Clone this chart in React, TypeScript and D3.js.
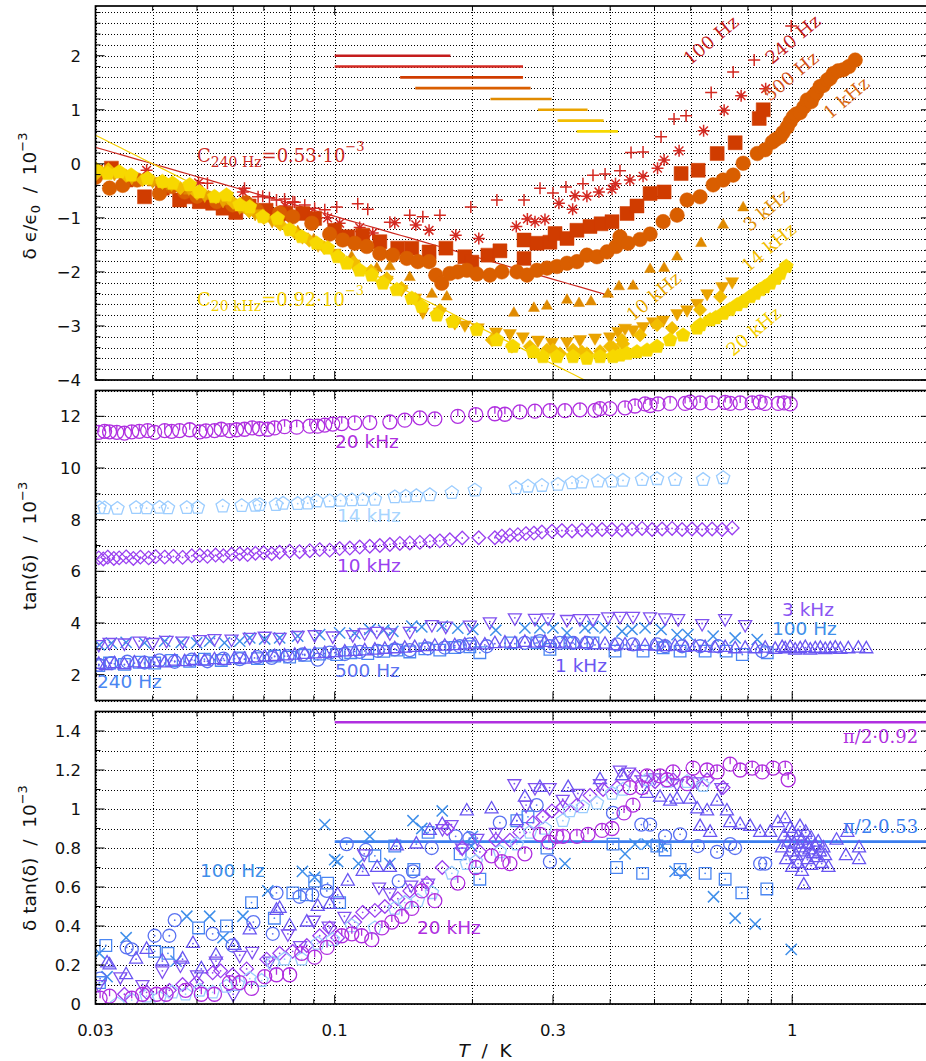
import React from 'react';
import * as d3 from 'd3';

type Pt = [number, number];

// ---------- relative permittivity change δε/ε0 (10^-3) vs temperature (K) ----------
const eps100Hz: Pt[] = [[0.0527,-0.36],[0.0635,-0.45],[0.068,-0.61],[0.0696,-0.60],[0.072,-0.63],[0.0746,-0.67],[0.0777,-0.65],[0.081,-0.70],[0.0818,-0.71],[0.0860,-0.76],[0.0904,-0.82],[0.0951,-0.85],[0.1010,-0.80],[0.1123,-0.74],[0.1181,-0.84],[0.1320,-1.08],[0.1459,-0.95],[0.1558,-0.98],[0.1698,-0.95],[0.1984,-0.80],[0.2262,-0.67],[0.2593,-0.67],[0.2810,-0.45],[0.2999,-0.54],[0.3202,-0.43],[0.3488,-0.37],[0.3669,-0.21],[0.3899,-0.19],[0.4203,-0.13],[0.4443,0.21],[0.4720,0.22],[0.5168,0.50],[0.5517,0.83],[0.5861,0.89],[0.6650,1.32],[0.7428,1.70],[0.8258,1.92],[0.9950,2.55]];
const eps240Hz: Pt[] = [[0.0388,-0.12],[0.0504,-0.35],[0.063,-0.52],[0.078,-0.78],[0.088,-0.92],[0.0965,-1.00],[0.1025,-1.10],[0.1134,-1.18],[0.1211,-1.28],[0.1353,-1.09],[0.1504,-1.13],[0.1608,-1.23],[0.1839,-1.32],[0.2065,-1.38],[0.2494,-1.16],[0.2637,-1.02],[0.2740,-1.07],[0.2881,-1.03],[0.3091,-0.73],[0.3312,-0.84],[0.3351,-0.59],[0.3558,-0.60],[0.3780,-0.52],[0.4037,-0.47],[0.4109,-0.37],[0.4418,-0.30],[0.4720,-0.23],[0.5077,-0.08],[0.5248,0.07],[0.5659,0.24],[0.6402,0.61],[0.7099,0.99],[0.7733,1.26],[0.8749,1.39]];
const eps500Hz: Pt[] = [[0.0300,-0.15],[0.0325,-0.08],[0.035,-0.30],[0.0384,-0.61],[0.042,-0.45],[0.0458,-0.67],[0.0481,-0.61],[0.0506,-0.70],[0.0541,-0.73],[0.057,-0.82],[0.0608,-0.90],[0.065,-0.78],[0.0708,-0.86],[0.075,-0.95],[0.0782,-0.92],[0.0851,-0.92],[0.0904,-1.01],[0.1000,-1.23],[0.1068,-1.35],[0.1151,-1.32],[0.1255,-1.44],[0.1373,-1.56],[0.1474,-1.56],[0.1608,-1.63],[0.1750,-1.56],[0.1925,-1.72],[0.1994,-1.82],[0.2162,-1.69],[0.2297,-1.61],[0.2593,-1.41],[0.2593,-1.75],[0.2767,-1.47],[0.2954,-1.45],[0.3031,-1.29],[0.3219,-1.38],[0.3384,-1.23],[0.3614,-1.16],[0.3821,-1.11],[0.4037,-1.07],[0.4355,-0.92],[0.4578,-0.78],[0.4890,-0.55],[0.5248,-0.52],[0.5717,-0.18],[0.6228,-0.12],[0.6854,0.19],[0.7504,0.39],[0.8469,0.84],[0.8642,1.00]];
const eps1kHz: Pt[] = [[0.0300,-0.25],[0.0322,-0.45],[0.0344,-0.40],[0.037,-0.30],[0.0414,-0.55],[0.044,-0.42],[0.0470,-0.52],[0.050,-0.60],[0.0552,-0.70],[0.0598,-0.76],[0.064,-0.72],[0.0675,-0.86],[0.0758,-0.91],[0.0809,-0.98],[0.0891,-1.10],[0.0975,-1.30],[0.1041,-1.41],[0.1106,-1.47],[0.1175,-1.53],[0.1255,-1.66],[0.1339,-1.69],[0.1437,-1.75],[0.1519,-1.81],[0.1608,-1.81],[0.1663,-2.06],[0.1714,-2.21],[0.1785,-2.03],[0.1858,-2.00],[0.1944,-1.97],[0.2045,-2.04],[0.2183,-2.06],[0.2319,-2.00],[0.2502,-2.00],[0.2632,-2.06],[0.2767,-1.97],[0.2910,-1.93],[0.3060,-1.90],[0.3219,-1.84],[0.3384,-1.81],[0.3558,-1.69],[0.3743,-1.72],[0.3937,-1.63],[0.4120,-1.53],[0.4203,-1.35],[0.4377,-1.47],[0.4649,-1.40],[0.4890,-1.30],[0.5222,-1.07],[0.5602,-0.95],[0.5891,-0.67],[0.6290,-0.61],[0.6717,-0.39],[0.7063,-0.30],[0.7428,-0.21],[0.7812,0.01],[0.8384,0.19],[0.8727,0.26],[0.9042,0.40],[0.92,0.45],[0.9412,0.50],[0.955,0.58],[0.9752,0.68],[0.99,0.78],[1.005,0.87],[1.02,0.92],[1.041,0.95],[1.06,1.05],[1.078,1.18],[1.10,1.15],[1.112,1.25],[1.13,1.32],[1.151,1.43],[1.17,1.45],[1.193,1.55],[1.21,1.58],[1.230,1.67],[1.26,1.72],[1.293,1.74],[1.33,1.80],[1.373,1.92]];
const eps3kHz: Pt[] = [[0.030,-0.15],[0.033,-0.20],[0.036,-0.25],[0.040,-0.35],[0.044,-0.42],[0.048,-0.50],[0.053,-0.60],[0.058,-0.70],[0.064,-0.85],[0.070,-0.95],[0.076,-1.10],[0.083,-1.25],[0.090,-1.40],[0.097,-1.55],[0.1089,-1.72],[0.1236,-1.93],[0.1320,-1.90],[0.1459,-2.10],[0.1631,-2.41],[0.1758,-2.46],[0.2464,-2.76],[0.2725,-2.67],[0.2910,-2.63],[0.3219,-2.52],[0.3420,-2.58],[0.3632,-2.55],[0.3958,-2.41],[0.4182,-2.27],[0.4488,-2.26],[0.4890,-1.95],[0.5248,-1.93],[0.5602,-1.72],[0.6322,-1.47],[0.7063,-1.13],[0.7812,-0.81]];
const eps10kHz: Pt[] = [[0.030,-0.12],[0.033,-0.18],[0.036,-0.25],[0.040,-0.32],[0.044,-0.38],[0.048,-0.45],[0.052,-0.58],[0.057,-0.68],[0.062,-0.80],[0.067,-0.92],[0.073,-1.05],[0.079,-1.20],[0.085,-1.35],[0.092,-1.50],[0.100,-1.65],[0.110,-1.85],[0.120,-2.00],[0.130,-2.15],[0.140,-2.32],[0.150,-2.48],[0.1558,-2.74],[0.1698,-2.74],[0.1830,-2.94],[0.1925,-2.98],[0.2055,-3.03],[0.2251,-3.11],[0.2415,-3.14],[0.2578,-3.20],[0.2781,-3.26],[0.2985,-3.30],[0.3219,-3.29],[0.3437,-3.25],[0.3706,-3.22],[0.3997,-3.20],[0.4162,-3.10],[0.4311,-3.04],[0.4488,-3.07],[0.4720,-3.01],[0.4963,-2.92],[0.5222,-2.89],[0.5602,-2.77],[0.5891,-2.70],[0.6197,-2.58],[0.6516,-2.40],[0.7029,-2.27],[0.7392,-2.18]];
const eps14kHz: Pt[] = [[0.030,-0.20],[0.032,-0.10],[0.035,-0.22],[0.038,-0.30],[0.042,-0.35],[0.046,-0.45],[0.050,-0.55],[0.055,-0.62],[0.060,-0.72],[0.065,-0.88],[0.070,-1.00],[0.076,-1.12],[0.082,-1.28],[0.088,-1.42],[0.095,-1.55],[0.102,-1.70],[0.110,-1.82],[0.120,-1.98],[0.130,-2.12],[0.140,-2.30],[0.150,-2.50],[0.1698,-2.71],[0.1831,-2.92],[0.2206,-3.26],[0.2439,-3.38],[0.2671,-3.38],[0.2910,-3.44],[0.3000,-3.44],[0.3107,-3.51],[0.3318,-3.44],[0.3471,-3.48],[0.3558,-3.51],[0.3802,-3.47],[0.3997,-3.38],[0.4058,-3.40],[0.4246,-3.26],[0.4267,-3.33],[0.4649,-3.17],[0.5066,-2.98],[0.5463,-3.04],[0.6290,-2.70],[0.6960,-2.46]];
const eps20kHz: Pt[] = [[0.0301,-0.11],[0.0319,-0.18],[0.0338,-0.15],[0.0359,-0.21],[0.0390,-0.27],[0.0420,-0.33],[0.0442,-0.36],[0.0482,-0.39],[0.0506,-0.52],[0.0546,-0.61],[0.0580,-0.58],[0.0620,-0.76],[0.0652,-0.80],[0.0696,-0.98],[0.0750,-1.01],[0.0797,-1.22],[0.0847,-1.35],[0.0913,-1.47],[0.0965,-1.56],[0.1015,-1.72],[0.1062,-1.84],[0.1134,-1.97],[0.1205,-2.06],[0.1274,-2.21],[0.1367,-2.33],[0.1474,-2.49],[0.1550,-2.64],[0.1672,-2.80],[0.1812,-2.92],[0.2045,-3.07],[0.2262,-3.26],[0.2452,-3.38],[0.2713,-3.48],[0.2851,-3.57],[0.3060,-3.57],[0.3318,-3.57],[0.3558,-3.60],[0.3802,-3.57],[0.4058,-3.57],[0.4203,-3.54],[0.4355,-3.51],[0.4578,-3.48],[0.4817,-3.45],[0.5066,-3.38],[0.5408,-3.26],[0.5775,-3.17],[0.6197,-3.04],[0.63,-2.98],[0.6616,-2.89],[0.68,-2.85],[0.7063,-2.77],[0.73,-2.70],[0.7579,-2.61],[0.78,-2.55],[0.8092,-2.46],[0.83,-2.40],[0.8511,-2.33],[0.87,-2.28],[0.8951,-2.21],[0.92,-2.12],[0.9412,-2.03],[0.9703,-1.90]];

// ---------- loss tangent tan δ (10^-3) ----------
const tan100Hz: Pt[] = [[0.0306,3.15],[0.0325,3.22],[0.0350,3.25],[0.0384,3.23],[0.0425,3.30],[0.0462,3.25],[0.0499,3.23],[0.0533,3.30],[0.0574,3.23],[0.0620,3.30],[0.0652,3.42],[0.0703,3.38],[0.0758,3.42],[0.0830,3.49],[0.0927,3.55],[0.1025,3.62],[0.1106,3.60],[0.1193,3.75],[0.1280,3.72],[0.1340,3.68],[0.1474,3.88],[0.1550,3.85],[0.1718,3.88],[0.1858,3.80],[0.2004,3.75],[0.2250,3.72],[0.2604,3.81],[0.2809,3.81],[0.2999,3.81],[0.3219,3.62],[0.3523,3.81],[0.3669,3.87],[0.3898,3.81],[0.4246,3.68],[0.4465,3.75],[0.4768,3.81],[0.5169,3.75],[0.5602,3.55],[0.5917,3.55],[0.6717,3.49],[0.7504,3.42],[0.8384,3.36]];
const tan240Hz: Pt[] = [[0.0305,2.35],[0.0322,2.45],[0.0347,2.40],[0.0374,2.48],[0.0404,2.45],[0.0440,2.55],[0.0482,2.52],[0.0519,2.60],[0.0565,2.55],[0.0620,2.65],[0.0678,2.62],[0.0739,2.72],[0.0797,2.68],[0.0860,2.75],[0.0927,2.80],[0.1010,2.78],[0.1084,2.85],[0.1181,2.82],[0.1280,2.90],[0.1367,2.95],[0.1459,2.88],[0.1574,3.00],[0.1697,2.95],[0.1830,3.05],[0.1974,3.08],[0.2076,2.85],[0.2427,3.23],[0.2767,3.23],[0.2954,2.98],[0.3267,3.23],[0.3669,3.23],[0.4099,2.91],[0.4720,2.91],[0.5222,3.04],[0.5687,2.91],[0.6451,2.91],[0.7172,2.91],[0.7780,2.78],[0.8820,2.85]];
const tan500Hz: Pt[] = [[0.0305,2.38],[0.0325,2.45],[0.0352,2.50],[0.0384,2.47],[0.0414,2.55],[0.0447,2.50],[0.0487,2.58],[0.0527,2.52],[0.0571,2.62],[0.0620,2.60],[0.0678,2.68],[0.0728,2.65],[0.0789,2.72],[0.0851,2.78],[0.0918,2.58],[0.0975,2.85],[0.1052,2.80],[0.1134,2.88],[0.1242,2.92],[0.1353,2.98],[0.1459,2.95],[0.1598,3.02],[0.1740,3.05],[0.1877,3.10],[0.1974,3.17],[0.2150,3.10],[0.2604,3.23],[0.2809,3.30],[0.2954,3.10],[0.3106,3.23],[0.3318,3.23],[0.3559,3.23],[0.4140,3.17],[0.4488,3.17],[0.5065,3.17],[0.5273,3.10],[0.5745,3.10],[0.6290,3.10],[0.6890,3.10],[0.8597,2.91]];
const tan1kHz: Pt[] = [[0.0305,2.40],[0.0316,2.35],[0.0330,2.42],[0.0347,2.38],[0.0365,2.45],[0.0384,2.42],[0.0404,2.48],[0.0425,2.45],[0.0447,2.52],[0.0470,2.50],[0.0494,2.55],[0.0519,2.52],[0.0546,2.58],[0.0574,2.55],[0.0604,2.62],[0.0635,2.60],[0.0668,2.65],[0.0703,2.68],[0.0739,2.70],[0.0777,2.72],[0.0818,2.75],[0.0860,2.78],[0.0904,2.80],[0.0951,2.82],[0.1000,2.85],[0.1052,2.88],[0.1106,2.90],[0.1163,2.92],[0.1224,2.95],[0.1287,2.98],[0.1353,3.00],[0.1423,3.02],[0.1496,3.05],[0.1574,3.08],[0.1655,3.10],[0.1740,3.10],[0.1830,3.12],[0.1925,3.15],[0.2024,3.18],[0.2129,3.15],[0.2239,3.20],[0.2355,3.22],[0.2476,3.20],[0.2604,3.25],[0.2739,3.22],[0.2880,3.25],[0.3029,3.20],[0.3186,3.22],[0.3350,3.18],[0.3523,3.20],[0.3706,3.15],[0.3898,3.18],[0.4099,3.12],[0.4311,3.15],[0.4533,3.10],[0.4768,3.12],[0.5014,3.10],[0.5273,3.08],[0.5546,3.10],[0.5832,3.05],[0.6134,3.08],[0.6451,3.05],[0.6784,3.02],[0.7135,3.05],[0.7504,3.00],[0.7892,3.02],[0.8300,3.00],[0.8728,3.02],[0.9179,2.98],[0.9506,3.05],[0.9654,3.00],[0.990,3.05],[1.015,2.95],[1.041,3.00],[1.068,3.05],[1.095,2.95],[1.123,3.00],[1.152,3.02],[1.181,2.97],[1.211,3.00],[1.242,3.03],[1.274,2.98],[1.326,3.00],[1.395,3.02],[1.452,3.00]];
const tan3kHz: Pt[] = [[0.0305,3.17],[0.0322,3.25],[0.0347,3.23],[0.0374,3.30],[0.0400,3.25],[0.0429,3.33],[0.0465,3.30],[0.0507,3.36],[0.0546,3.40],[0.0595,3.38],[0.0652,3.45],[0.0703,3.49],[0.0758,3.45],[0.0830,3.52],[0.0904,3.55],[0.0990,3.50],[0.1095,3.55],[0.1163,3.62],[0.1236,3.68],[0.1320,3.62],[0.1459,3.68],[0.1631,3.94],[0.1749,3.88],[0.1974,3.92],[0.2183,4.05],[0.2476,4.20],[0.2739,4.18],[0.2925,4.20],[0.3219,4.14],[0.3436,4.17],[0.3669,4.17],[0.3958,4.24],[0.4203,4.26],[0.4488,4.26],[0.4889,4.24],[0.5273,4.20],[0.5633,4.17],[0.6354,3.98],[0.7135,4.17],[0.7892,3.94]];
const tan10kHz: Pt[] = [[0.0305,6.52],[0.0312,6.48],[0.0319,6.55],[0.0329,6.50],[0.0338,6.52],[0.0350,6.56],[0.0363,6.50],[0.0376,6.55],[0.0392,6.52],[0.0406,6.57],[0.0425,6.55],[0.0444,6.58],[0.0465,6.54],[0.0487,6.60],[0.0507,6.62],[0.0527,6.58],[0.0549,6.63],[0.0571,6.60],[0.0595,6.66],[0.0620,6.68],[0.0645,6.65],[0.0671,6.70],[0.0699,6.72],[0.0728,6.68],[0.0758,6.74],[0.0797,6.78],[0.0838,6.76],[0.0882,6.80],[0.0927,6.84],[0.0975,6.82],[0.1025,6.88],[0.1079,6.90],[0.1134,6.94],[0.1193,6.97],[0.1255,7.00],[0.1320,7.04],[0.1388,7.08],[0.1459,7.10],[0.1535,7.12],[0.1614,7.16],[0.1697,7.18],[0.1785,7.22],[0.1900,7.29],[0.2065,7.30],[0.2239,7.30],[0.2320,7.36],[0.2415,7.40],[0.2514,7.42],[0.2618,7.46],[0.2725,7.48],[0.2837,7.52],[0.2985,7.55],[0.3138,7.58],[0.3301,7.56],[0.3471,7.60],[0.3650,7.60],[0.3840,7.62],[0.4037,7.62],[0.4246,7.60],[0.4465,7.64],[0.4696,7.66],[0.4939,7.62],[0.5195,7.64],[0.5463,7.66],[0.5745,7.62],[0.6041,7.64],[0.6354,7.62],[0.6682,7.64],[0.7028,7.62],[0.7392,7.68]];
const tan14kHz: Pt[] = [[0.0306,8.46],[0.0314,8.45],[0.0335,8.43],[0.0368,8.46],[0.0388,8.45],[0.0414,8.47],[0.0432,8.45],[0.0475,8.46],[0.0502,8.47],[0.0569,8.52],[0.0626,8.54],[0.0671,8.55],[0.0685,8.58],[0.0744,8.58],[0.0771,8.63],[0.0830,8.62],[0.0873,8.64],[0.0913,8.72],[0.0975,8.72],[0.1030,8.74],[0.1090,8.76],[0.1151,8.77],[0.1224,8.78],[0.1353,8.88],[0.1430,8.90],[0.1508,8.92],[0.1614,8.96],[0.1803,9.04],[0.2024,9.14],[0.2489,9.23],[0.2645,9.29],[0.2837,9.32],[0.3076,9.36],[0.3301,9.42],[0.3471,9.45],[0.3763,9.49],[0.4037,9.49],[0.4267,9.52],[0.4696,9.55],[0.5065,9.58],[0.5546,9.55],[0.6386,9.55],[0.7063,9.62]];
const tan20kHz: Pt[] = [[0.0305,11.38],[0.0314,11.42],[0.0322,11.40],[0.0334,11.38],[0.0347,11.35],[0.0360,11.40],[0.0374,11.42],[0.0390,11.45],[0.0404,11.38],[0.0425,11.45],[0.0440,11.42],[0.0458,11.45],[0.0482,11.48],[0.0507,11.40],[0.0523,11.44],[0.0546,11.45],[0.0565,11.50],[0.0589,11.45],[0.0610,11.48],[0.0635,11.50],[0.0660,11.55],[0.0685,11.52],[0.0714,11.50],[0.0739,11.55],[0.0777,11.60],[0.0826,11.58],[0.0882,11.62],[0.0918,11.62],[0.0951,11.66],[0.0990,11.70],[0.1036,11.72],[0.1106,11.75],[0.1193,11.76],[0.1320,11.78],[0.1423,11.85],[0.1535,11.94],[0.1655,11.90],[0.1858,12.00],[0.2034,12.07],[0.2239,12.10],[0.2355,12.08],[0.2539,12.17],[0.2739,12.20],[0.2954,12.22],[0.3186,12.22],[0.3436,12.25],[0.3706,12.23],[0.3800,12.30],[0.3997,12.30],[0.4311,12.33],[0.4533,12.40],[0.4768,12.48],[0.4890,12.42],[0.5090,12.48],[0.5408,12.50],[0.5832,12.50],[0.5980,12.55],[0.6290,12.52],[0.6682,12.52],[0.7135,12.54],[0.7320,12.50],[0.7695,12.52],[0.8175,12.52],[0.8510,12.55],[0.8728,12.50],[0.9320,12.50],[0.9600,12.52],[0.9900,12.48]];

// ---------- change of the loss tangent δ tan δ (10^-3) ----------
const dtan100Hz: Pt[] = [[0.0306,0.26],[0.0318,0.14],[0.0350,0.34],[0.045,0.22],[0.0475,0.45],[0.0533,0.45],[0.057,0.34],[0.0630,0.45],[0.0714,0.58],[0.0850,0.68],[0.0904,0.65],[0.0951,0.92],[0.1000,0.74],[0.1015,0.73],[0.1127,0.72],[0.1193,0.86],[0.1320,0.72],[0.1483,0.94],[0.1550,0.90],[0.1718,0.99],[0.1990,0.81],[0.2000,0.86],[0.3186,0.72],[0.4311,0.77],[0.4533,0.82],[0.4820,0.82],[0.5200,0.81],[0.5546,0.68],[0.5832,0.67],[0.6730,0.55],[0.7504,0.44],[0.8300,0.41],[0.9950,0.28]];
const dtan240Hz: Pt[] = [[0.0306,0.11],[0.0316,0.30],[0.0404,0.27],[0.0432,0.26],[0.0504,0.39],[0.0580,0.40],[0.0658,0.52],[0.0738,0.44],[0.0810,0.57],[0.0868,0.56],[0.0904,0.63],[0.0965,0.62],[0.1025,0.52],[0.1224,0.76],[0.1353,0.81],[0.1489,0.69],[0.1600,0.88],[0.1880,0.77],[0.2076,0.64],[0.2501,0.94],[0.2645,0.96],[0.2910,0.80],[0.4058,0.82],[0.4130,0.70],[0.4710,0.67],[0.5060,0.81],[0.5273,0.79],[0.5687,0.69],[0.6451,0.67],[0.7135,0.64],[0.7760,0.57],[0.8800,0.59]];
const dtan500Hz: Pt[] = [[0.0307,0.13],[0.0351,0.29],[0.0360,0.28],[0.0404,0.35],[0.0435,0.35],[0.0447,0.43],[0.0541,0.36],[0.0598,0.30],[0.0664,0.42],[0.0732,0.36],[0.0746,0.57],[0.0838,0.55],[0.0893,0.56],[0.0961,0.58],[0.1062,0.82],[0.1170,0.79],[0.1380,0.63],[0.1483,0.68],[0.1629,0.80],[0.1838,0.86],[0.1969,0.85],[0.2296,0.93],[0.2763,1.02],[0.2954,0.73],[0.4058,0.98],[0.4680,0.92],[0.4890,0.92],[0.5273,0.86],[0.5687,0.87],[0.6220,0.81],[0.6850,0.78],[0.7317,0.82],[0.7500,0.80],[0.8511,0.72],[0.8728,0.72]];
const dtan1kHz: Pt[] = [[0.0318,0.21],[0.0322,0.20],[0.0350,0.15],[0.0368,0.23],[0.0388,0.28],[0.0420,0.22],[0.0465,0.23],[0.0490,0.31],[0.0511,0.18],[0.0550,0.25],[0.0604,0.30],[0.0652,0.38],[0.0746,0.48],[0.0758,0.49],[0.0797,0.40],[0.0869,0.42],[0.0918,0.50],[0.0975,0.51],[0.1015,0.56],[0.1068,0.63],[0.1151,0.68],[0.1238,0.70],[0.1320,0.70],[0.1367,0.81],[0.1508,0.82],[0.1614,0.89],[0.1718,0.92],[0.1944,0.99],[0.2202,1.00],[0.2501,0.94],[0.2604,1.06],[0.2809,1.11],[0.3238,1.11],[0.3801,1.15],[0.4246,1.17],[0.4815,1.08],[0.5142,1.06],[0.5408,1.04],[0.5600,1.05],[0.5981,1.05],[0.6200,1.00],[0.6290,0.91],[0.6516,0.99],[0.6615,0.88],[0.6852,1.04],[0.7200,0.99],[0.7317,0.93],[0.7695,0.92],[0.8093,0.91],[0.8511,0.88],[0.8951,0.88],[0.9300,0.93],[0.9654,0.95],[0.95,0.80],[0.96,0.86],[0.97,0.74],[0.98,0.83],[0.99,0.78],[0.99,0.90],[1.00,0.88],[1.00,0.70],[1.01,0.82],[1.02,0.76],[1.03,0.86],[1.03,0.72],[1.04,0.80],[1.04,0.91],[1.05,0.84],[1.05,0.68],[1.06,0.78],[1.06,0.61],[1.07,0.88],[1.08,0.74],[1.08,0.82],[1.09,0.79],[1.10,0.85],[1.10,0.71],[1.11,0.77],[1.12,0.81],[1.13,0.75],[1.14,0.83],[1.15,0.78],[1.16,0.72],[1.17,0.80],[1.18,0.76],[1.20,0.70],[1.25,0.84],[1.31,0.76],[1.32,0.88],[1.40,0.80],[1.40,0.74]];
const dtan3kHz: Pt[] = [[0.0305,0.10],[0.034,0.14],[0.038,0.10],[0.042,0.17],[0.046,0.20],[0.050,0.15],[0.055,0.22],[0.060,0.05],[0.062,0.25],[0.066,0.27],[0.072,0.22],[0.079,0.36],[0.084,0.30],[0.090,0.43],[0.097,0.40],[0.105,0.45],[0.116,0.77],[0.125,0.60],[0.132,0.57],[0.147,0.61],[0.160,0.62],[0.172,0.90],[0.180,0.92],[0.190,0.80],[0.205,0.85],[0.225,0.88],[0.247,1.13],[0.262,1.02],[0.274,1.11],[0.295,1.11],[0.315,1.05],[0.340,1.08],[0.380,1.13],[0.420,1.20],[0.440,1.19],[0.470,1.15],[0.500,1.16],[0.560,1.13],[0.620,1.14],[0.700,1.11]];
const dtan10kHz: Pt[] = [[0.0347,0.05],[0.0388,0.06],[0.0435,0.07],[0.0465,0.10],[0.0499,0.11],[0.0541,0.16],[0.0563,0.17],[0.0598,0.15],[0.0642,0.18],[0.0710,0.23],[0.0758,0.26],[0.0809,0.27],[0.0869,0.30],[0.0927,0.35],[0.0975,0.39],[0.1015,0.34],[0.1106,0.42],[0.1151,0.47],[0.1224,0.48],[0.1287,0.50],[0.1374,0.54],[0.1459,0.58],[0.1590,0.62],[0.1718,0.70],[0.1762,0.90],[0.1900,0.80],[0.2076,0.78],[0.2250,0.84],[0.2415,0.84],[0.2539,0.88],[0.2712,0.93],[0.2851,0.96],[0.2984,0.99],[0.3153,1.01],[0.3384,1.02],[0.3614,1.07],[0.3860,1.10],[0.4140,1.11],[0.4533,1.17],[0.5014,1.14],[0.5490,1.15],[0.6071,1.14],[0.6516,1.15],[0.7064,1.11]];
const dtan14kHz: Pt[] = [[0.0335,0.00],[0.0360,0.02],[0.0388,0.04],[0.0414,0.03],[0.0442,0.06],[0.0472,0.05],[0.0507,0.07],[0.0541,0.06],[0.0580,0.09],[0.0613,0.10],[0.0652,0.13],[0.0692,0.12],[0.0732,0.21],[0.0777,0.23],[0.0847,0.23],[0.0918,0.31],[0.0990,0.33],[0.1090,0.40],[0.1224,0.39],[0.1353,0.49],[0.1423,0.52],[0.1519,0.53],[0.1631,0.57],[0.1803,0.67],[0.1944,0.72],[0.2035,0.73],[0.2296,0.78],[0.2501,0.82],[0.2671,0.88],[0.2880,0.90],[0.3153,0.94],[0.3267,0.99],[0.3488,1.01],[0.3743,1.03],[0.4037,1.08],[0.4267,1.10],[0.4815,1.15],[0.5327,1.14],[0.5890,1.14],[0.6386,1.12]];
const dtan20kHz: Pt[] = [[0.0307,0.03],[0.0322,0.04],[0.0360,0.03],[0.0380,0.05],[0.0408,0.05],[0.0428,0.05],[0.0472,0.07],[0.0511,0.05],[0.0546,0.05],[0.0589,0.11],[0.0620,0.11],[0.0658,0.08],[0.0703,0.14],[0.0746,0.15],[0.0797,0.15],[0.0847,0.26],[0.0904,0.24],[0.0962,0.29],[0.1036,0.35],[0.1090,0.36],[0.1145,0.35],[0.1205,0.33],[0.1268,0.39],[0.1333,0.42],[0.1402,0.45],[0.1474,0.49],[0.1550,0.58],[0.1655,0.53],[0.1858,0.62],[0.2035,0.70],[0.2202,0.76],[0.2319,0.73],[0.2415,0.72],[0.2604,0.77],[0.2809,0.87],[0.2939,0.83],[0.3060,0.86],[0.3153,0.86],[0.3384,0.86],[0.3578,0.87],[0.3840,0.89],[0.4037,0.90],[0.4289,0.98],[0.4420,1.11],[0.4488,1.02],[0.4696,1.11],[0.4815,1.17],[0.5142,1.17],[0.5327,1.15],[0.5490,1.19],[0.5890,1.13],[0.6071,1.21],[0.6516,1.20],[0.6852,1.19],[0.7317,1.23],[0.7695,1.20],[0.8175,1.21],[0.8598,1.19],[0.9087,1.21],[0.9654,1.21],[0.9800,1.15]];

// temperature windows drawn as bars in the permittivity panel
const rangeStartK = [0.1, 0.1, 0.139, 0.150, 0.219, 0.278, 0.307, 0.338];
const rangeEndK = [0.179, 0.258, 0.258, 0.268, 0.298, 0.357, 0.387, 0.416];
const rangeLevel = [2.0, 1.8, 1.6, 1.4, 1.2, 1.0, 0.8, 0.6];

// logarithmic TLS fits: δε/ε0 = -2 C ln(T/T0)
const C240Hz = 0.53;
const C20kHz = 0.92;
const fitT0 = 0.04;
const fit240EndK = 0.39;
const plateauStartK = 0.1;

const xTickValues = [0.03, 0.1, 0.3, 1];
const xTickLabels = ['0.03', '0.1', '0.3', '1'];
const epsTicks = [-4, -3, -2, -1, 0, 1, 2];
const tanTicks = [2, 4, 6, 8, 10, 12];
const dtanTicks = [0, 0.2, 0.4, 0.6, 0.8, 1, 1.2, 1.4];

const warm = ['#c41c1c', '#d42a22', '#d03c00', '#d95e00', '#e08a00', '#eaa300', '#f2bd00', '#f7d800'];
const cool = { f100: '#3f8fea', f240: '#4a86f2', f500: '#5a72f2', f1k: '#6a56f2', f3k: '#8052f0', f10k: '#9a40f0', f14k: '#9ccdff', f20k: '#b02fe0' };

const W = 926, H = 1061;
const X_LEFT = 95.5;
const DECADE = 457.5;
const x = d3.scaleLog().domain([0.03, 2]).range([X_LEFT, X_LEFT + DECADE * Math.log10(2 / 0.03)]);
const X_RIGHT = x(2);
const yEps = d3.scaleLinear().domain([-4, 2.92]).range([380, 6]);
const yTan = d3.scaleLinear().domain([1, 13]).range([700.5, 390.5]);
const yDtan = d3.scaleLinear().domain([0, 1.5]).range([1004, 711.5]);

const xGrid = [...d3.range(3, 10).map(k => k / 100), ...d3.range(1, 10).map(k => k / 10), 1, 2];
const epsGrid = d3.range(-20, 15).map(k => k / 5);
const tanGrid = d3.range(1, 14);
const dtanGrid = d3.range(0, 16).map(k => k / 10);

const SANS = 'DejaVu Sans, sans-serif';
const SERIF = 'DejaVu Serif, serif';
const crisp = (v: number) => Math.round(v) + 0.5;

function symbolPath(shape: string, s: number): string {
  const p = d3.path();
  if (shape === 'plus') { p.moveTo(-s, 0); p.lineTo(s, 0); p.moveTo(0, -s); p.lineTo(0, s); }
  else if (shape === 'cross') { p.moveTo(-s, -s); p.lineTo(s, s); p.moveTo(-s, s); p.lineTo(s, -s); }
  else if (shape === 'star') {
    const d = s * 0.72;
    p.moveTo(-s, 0); p.lineTo(s, 0); p.moveTo(0, -s); p.lineTo(0, s);
    p.moveTo(-d, -d); p.lineTo(d, d); p.moveTo(-d, d); p.lineTo(d, -d);
  }
  else if (shape === 'square') { p.rect(-s, -s, 2 * s, 2 * s); }
  else if (shape === 'circle') { p.moveTo(s, 0); p.arc(0, 0, s, 0, 2 * Math.PI); p.closePath(); }
  else if (shape === 'circleTick') { p.moveTo(s, 0); p.arc(0, 0, s, 0, 2 * Math.PI); p.closePath(); p.moveTo(0, -s); p.lineTo(0, 0); }
  else if (shape === 'triUp') { p.moveTo(0, -1.15 * s); p.lineTo(s, 0.6 * s); p.lineTo(-s, 0.6 * s); p.closePath(); }
  else if (shape === 'triDown') { p.moveTo(0, 1.15 * s); p.lineTo(s, -0.6 * s); p.lineTo(-s, -0.6 * s); p.closePath(); }
  else if (shape === 'diamond') { p.moveTo(0, -s); p.lineTo(s, 0); p.lineTo(0, s); p.lineTo(-s, 0); p.closePath(); }
  else if (shape === 'pentagon') {
    for (let k = 0; k < 5; k++) {
      const a = -Math.PI / 2 + (k * 2 * Math.PI) / 5;
      if (k === 0) p.moveTo(s * Math.cos(a), s * Math.sin(a)); else p.lineTo(s * Math.cos(a), s * Math.sin(a));
    }
    p.closePath();
  }
  return p.toString();
}

type SeriesDef = { data: Pt[]; shape: string; color: string; size: number };

const epsSeries: SeriesDef[] = [
  { data: eps100Hz, shape: 'plus', color: warm[1], size: 6 },
  { data: eps240Hz, shape: 'star', color: warm[1], size: 6 },
  { data: eps500Hz, shape: 'square', color: warm[2], size: 7 },
  { data: eps1kHz, shape: 'circle', color: warm[3], size: 7.3 },
  { data: eps3kHz, shape: 'triUp', color: warm[4], size: 5.5 },
  { data: eps10kHz, shape: 'triDown', color: warm[5], size: 6.5 },
  { data: eps14kHz, shape: 'diamond', color: warm[6], size: 6.8 },
  { data: eps20kHz, shape: 'pentagon', color: warm[7], size: 7.5 },
];
const tanSeries: SeriesDef[] = [
  { data: tan100Hz, shape: 'cross', color: cool.f100, size: 5.6 },
  { data: tan240Hz, shape: 'square', color: cool.f240, size: 5.8 },
  { data: tan500Hz, shape: 'circle', color: cool.f500, size: 6.5 },
  { data: tan1kHz, shape: 'triUp', color: cool.f1k, size: 6.5 },
  { data: tan3kHz, shape: 'triDown', color: cool.f3k, size: 6.5 },
  { data: tan10kHz, shape: 'diamond', color: cool.f10k, size: 6.8 },
  { data: tan14kHz, shape: 'pentagon', color: cool.f14k, size: 7 },
  { data: tan20kHz, shape: 'circleTick', color: cool.f20k, size: 7 },
];
const dtanSeries: SeriesDef[] = [
  { data: dtan100Hz, shape: 'cross', color: cool.f100, size: 5.6 },
  { data: dtan240Hz, shape: 'square', color: cool.f240, size: 5.8 },
  { data: dtan500Hz, shape: 'circle', color: cool.f500, size: 6.5 },
  { data: dtan1kHz, shape: 'triUp', color: cool.f1k, size: 6.5 },
  { data: dtan3kHz, shape: 'triDown', color: cool.f3k, size: 6.5 },
  { data: dtan10kHz, shape: 'diamond', color: cool.f10k, size: 6.8 },
  { data: dtan14kHz, shape: 'pentagon', color: cool.f14k, size: 7 },
  { data: dtan20kHz, shape: 'circleTick', color: cool.f20k, size: 7 },
];

function Markers({ s, y, filled }: { s: SeriesDef; y: any; filled: boolean }) {
  const d = symbolPath(s.shape, s.size);
  const lineOnly = s.shape === 'plus' || s.shape === 'cross' || s.shape === 'star';
  const dot = !filled && !lineOnly && s.shape !== 'circleTick';
  return (
    <g>
      {s.data.map(([t, v], i) => (
        <g key={i} transform={`translate(${x(t)},${y(v)})`}>
          <path d={d} fill={filled && !lineOnly ? s.color : 'none'} stroke={s.color}
            strokeWidth={lineOnly ? 1.5 : filled ? 0.5 : 1.3} />
          {dot && <circle r={0.9} fill={s.color} />}
        </g>
      ))}
    </g>
  );
}

function Panel({ id, y, grid, ticks, fmt, children }: any) {
  const [yb, yt] = y.range();
  return (
    <g>
      <defs>
        <clipPath id={id}><rect x={X_LEFT} y={yt} width={X_RIGHT - X_LEFT} height={yb - yt} /></clipPath>
      </defs>
      <g stroke="#000" strokeWidth={1} strokeDasharray="1 2" shapeRendering="crispEdges">
        {grid.map((v: number) => <line key={'h' + v} x1={X_LEFT} x2={X_RIGHT} y1={crisp(y(v))} y2={crisp(y(v))} />)}
        {xGrid.map(t => <line key={'v' + t} x1={crisp(x(t))} x2={crisp(x(t))} y1={yt} y2={yb} />)}
      </g>
      <g clipPath={`url(#${id})`}>{children}</g>
      <g stroke="#000" strokeWidth={1}>
        {grid.map((v: number) => {
          const len = ticks.some((m: number) => Math.abs(m - v) < 1e-6) ? 9 : 5;
          return (
            <g key={'t' + v}>
              <line x1={X_LEFT} x2={X_LEFT + len} y1={y(v)} y2={y(v)} />
              <line x1={X_RIGHT} x2={X_RIGHT - len} y1={y(v)} y2={y(v)} />
            </g>
          );
        })}
        {xGrid.map(t => {
          const len = xTickValues.includes(t) ? 9 : 5;
          return (
            <g key={'xt' + t}>
              <line x1={x(t)} x2={x(t)} y1={yb} y2={yb - len} />
              <line x1={x(t)} x2={x(t)} y1={yt} y2={yt + len} />
            </g>
          );
        })}
      </g>
      <rect x={X_LEFT} y={yt} width={X_RIGHT - X_LEFT} height={yb - yt} fill="none" stroke="#000" strokeWidth={1.7} />
      <g fontFamily={SANS} fontSize={16.5} fill="#111" textAnchor="end">
        {ticks.map((v: number) => (
          <text key={'l' + v} x={81} y={y(v)} dy="0.36em">{fmt(v)}</text>
        ))}
      </g>
    </g>
  );
}

const minusFmt = (v: number) => (v < 0 ? '\u2212' + Math.abs(v) : String(v));

export default function App() {
  const fitLine = (C: number, t1: number) => {
    const ts = d3.range(0, 61).map(k => 0.03 * Math.pow(t1 / 0.03, k / 60));
    return d3.line<number>().x(t => x(t)).y(t => yEps(-2 * C * Math.log(t / fitT0)))(ts) as string;
  };
  const pre = { whiteSpace: 'pre' } as React.CSSProperties;
  return (
    <div style={{ position: 'absolute', left: 0, top: 0, width: W, height: H, background: '#fff' }}>
      <svg width={W} height={H} viewBox={`0 0 ${W} ${H}`} style={{ display: 'block' }}>
        <rect width={W} height={H} fill="#fff" />

        {/* permittivity panel */}
        <Panel id="clip-eps" y={yEps} grid={epsGrid} ticks={epsTicks} fmt={minusFmt}>
          {rangeLevel.map((lv, i) => (
            <line key={'r' + i} x1={x(rangeStartK[i])} x2={x(rangeEndK[i])} y1={yEps(lv)} y2={yEps(lv)}
              stroke={warm[i]} strokeWidth={2.6} />
          ))}
          <path d={fitLine(C240Hz, fit240EndK)} fill="none" stroke="#cc2a22" strokeWidth={1.2} />
          <path d={fitLine(C20kHz, 0.36)} fill="none" stroke="#f5cf00" strokeWidth={1.2} />
          {epsSeries.map((s, i) => <Markers key={i} s={s} y={yEps} filled={true} />)}
        </Panel>

        {/* loss tangent panel */}
        <Panel id="clip-tan" y={yTan} grid={tanGrid} ticks={tanTicks} fmt={(v: number) => String(v)}>
          {tanSeries.map((s, i) => <Markers key={i} s={s} y={yTan} filled={false} />)}
        </Panel>

        {/* loss tangent change panel */}
        <Panel id="clip-dtan" y={yDtan} grid={dtanGrid} ticks={dtanTicks} fmt={(v: number) => String(v)}>
          <line x1={x(plateauStartK)} x2={X_RIGHT} y1={yDtan((Math.PI / 2) * C20kHz)} y2={yDtan((Math.PI / 2) * C20kHz)}
            stroke={cool.f20k} strokeWidth={2.6} />
          <line x1={x(plateauStartK)} x2={X_RIGHT} y1={yDtan((Math.PI / 2) * C240Hz)} y2={yDtan((Math.PI / 2) * C240Hz)}
            stroke="#3d7ff0" strokeWidth={2.6} />
          {dtanSeries.map((s, i) => <Markers key={i} s={s} y={yDtan} filled={false} />)}
        </Panel>

        {/* frequency labels, permittivity panel */}
        <g fontFamily={SERIF} fontSize={18}>
          <text transform="translate(690,66) rotate(-40)" fill="#c41c1c">100 Hz</text>
          <text transform="translate(772,65) rotate(-40)" fill="#c41c1c">240 Hz</text>
          <text transform="translate(770,102) rotate(-40)" fill="#d2501a">500 Hz</text>
          <text transform="translate(830,120) rotate(-40)" fill="#d96a14">1 kHz</text>
          <text transform="translate(750,232) rotate(-40)" fill="#e0900a">3 kHz</text>
          <text transform="translate(748,273) rotate(-40)" fill="#f0bc00">14 kHz</text>
          <text transform="translate(633,322) rotate(-40)" fill="#e9a800">10 kHz</text>
          <text transform="translate(733,357) rotate(-40)" fill="#f5d000">20 kHz</text>
          <text x={197} y={162} fill="#cc2a22">C<tspan fontSize={14} dy={5}>240 Hz</tspan><tspan dy={-5}>=0.53·10</tspan><tspan fontSize={13} dy={-11}>−3</tspan></text>
          <text x={197} y={306} fill="#f5d000">C<tspan fontSize={14} dy={5}>20 kHz</tspan><tspan dy={-5}>=0.92·10</tspan><tspan fontSize={13} dy={-11}>−3</tspan></text>
        </g>

        {/* frequency labels, loss tangent panels */}
        <g fontFamily={SANS} fontSize={18.5}>
          <text x={335} y={448} fill={cool.f20k}>20 kHz</text>
          <text x={337} y={522} fill="#a8d5ff">14 kHz</text>
          <text x={337} y={572} fill={cool.f10k}>10 kHz</text>
          <text x={335} y={677} fill={cool.f500}>500 Hz</text>
          <text x={97} y={688} fill={cool.f240}>240 Hz</text>
          <text x={555} y={672} fill={cool.f1k}>1 kHz</text>
          <text x={782} y={616} fill="#8a55f2">3 kHz</text>
          <text x={772} y={635} fill={cool.f100}>100 Hz</text>
          <text x={200} y={877} fill={cool.f100}>100 Hz</text>
          <text x={417} y={934} fill={cool.f20k}>20 kHz</text>
        </g>
        <g fontFamily={SERIF} fontSize={18}>
          <text x={843} y={743} fill={cool.f20k}>π/2·0.92</text>
          <text x={843} y={833} fill="#3d7ff0">π/2·0.53</text>
        </g>

        {/* axis labels */}
        <g fontFamily={SANS} fontSize={18.5} fill="#111">
          <text transform="translate(36,196) rotate(-90)" textAnchor="middle" style={pre}>δ ϵ/ϵ<tspan fontSize={13} dy={4}>0</tspan><tspan dy={-4}>{'  /  10'}</tspan><tspan fontSize={13} dy={-9}>−3</tspan></text>
          <text transform="translate(36,546) rotate(-90)" textAnchor="middle" style={pre}>{'tan(δ)  /  10'}<tspan fontSize={13} dy={-9}>−3</tspan></text>
          <text transform="translate(36,858) rotate(-90)" textAnchor="middle" style={pre}>{'δ tan(δ)  /  10'}<tspan fontSize={13} dy={-9}>−3</tspan></text>
          <text x={485} y={1057} textAnchor="middle" style={pre}><tspan fontStyle="italic">T</tspan>{'  /  K'}</text>
        </g>
        <g fontFamily={SANS} fontSize={16.5} fill="#111" textAnchor="middle">
          {xTickValues.map((t, i) => <text key={t} x={x(t)} y={1036}>{xTickLabels[i]}</text>)}
        </g>
      </svg>
    </div>
  );
}
